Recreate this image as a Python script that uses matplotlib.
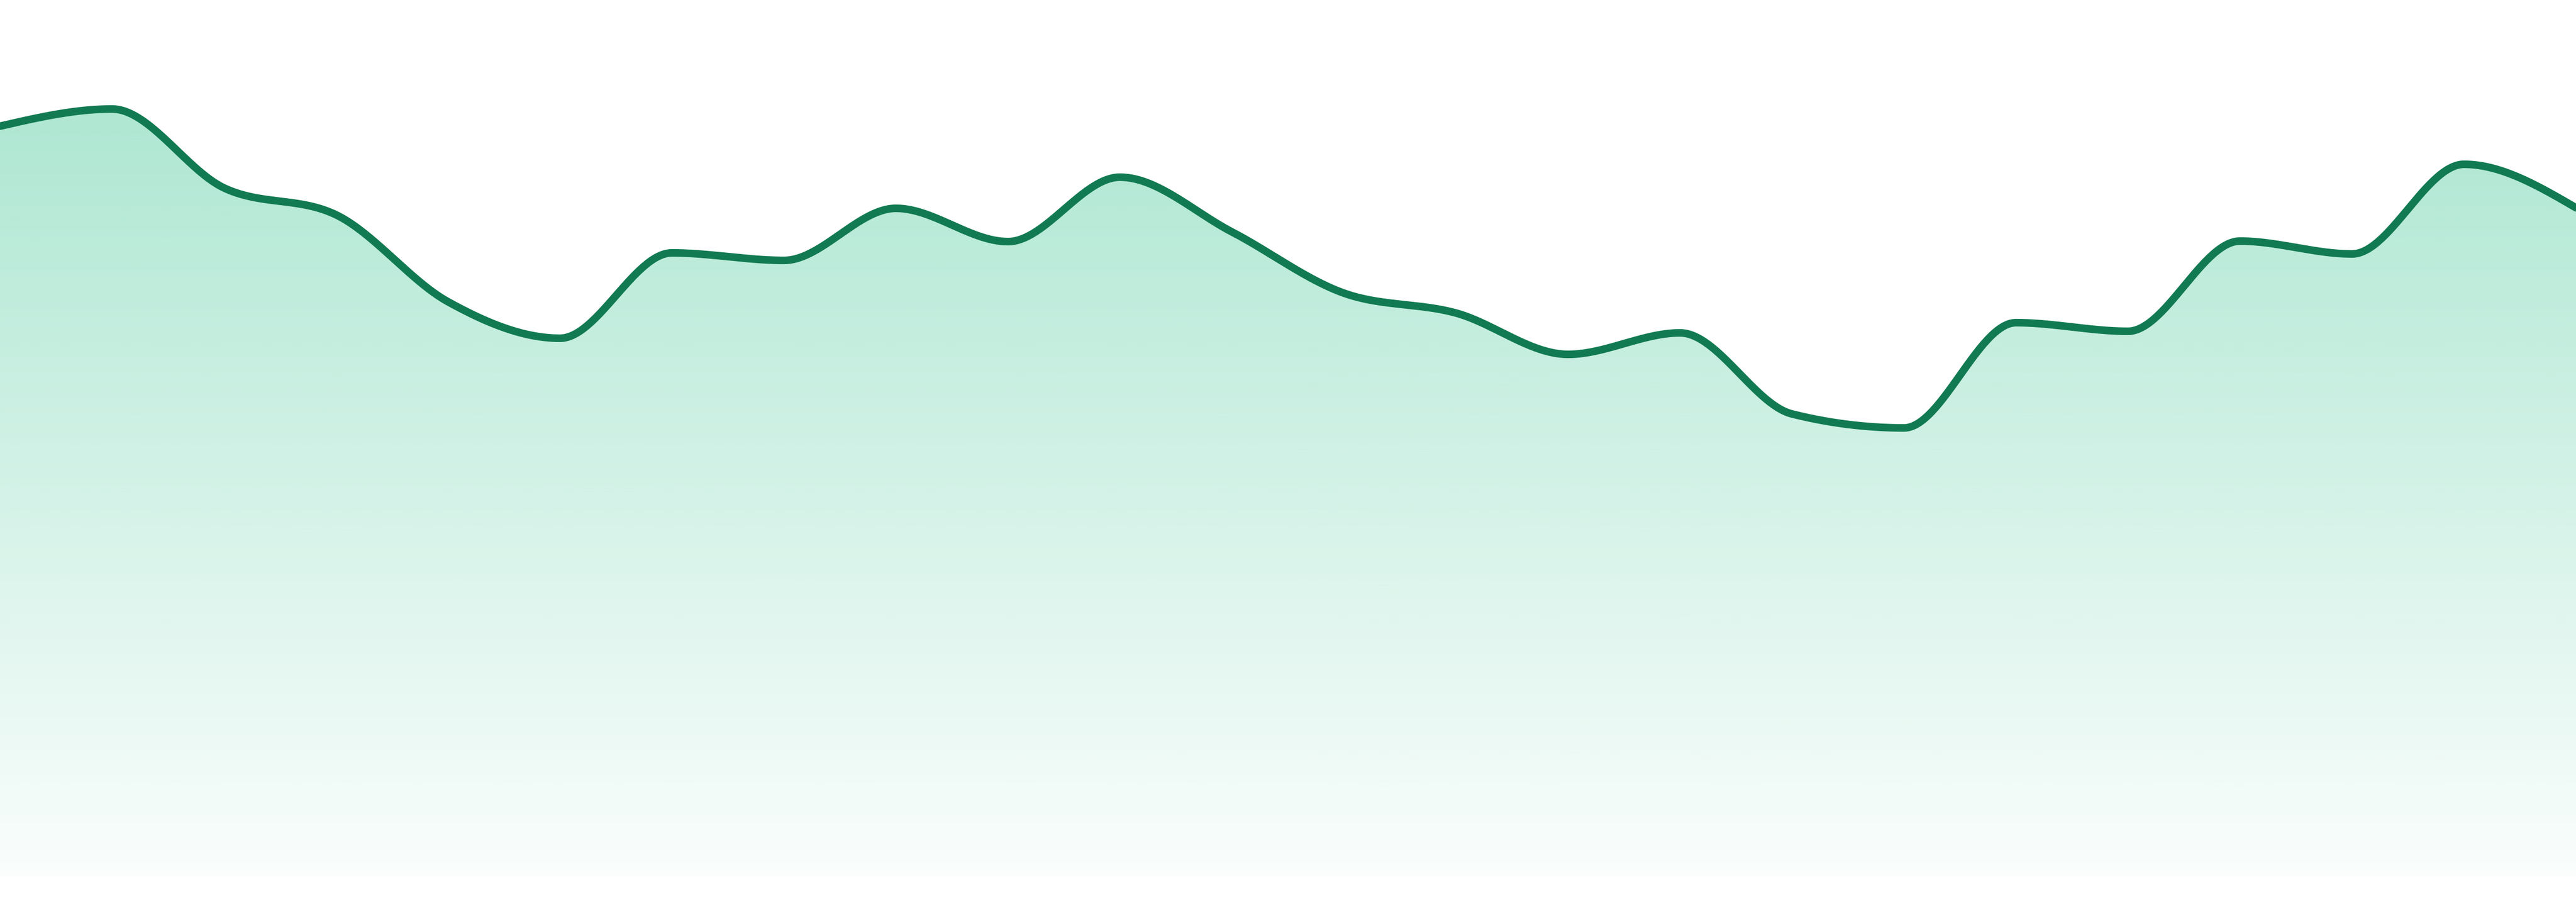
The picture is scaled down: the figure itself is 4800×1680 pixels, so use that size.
import numpy as np
import matplotlib
matplotlib.use("Agg")
import matplotlib.pyplot as plt
from matplotlib.patches import Polygon

# values (24 evenly spaced points, edge to edge)
points = list(range(24))
values = [139.7, 142.9, 128.2, 123.2, 107.0, 100.2, 116.1, 114.7,
          124.4, 118.2, 130.2, 120.0, 108.6, 104.9, 97.2, 101.2,
          86.1, 83.5, 103.1, 101.5, 118.3, 115.9, 132.6, 124.5]

y_top = 163.2
line_color = "#127a52"
fill_rgb = (52 / 255, 195 / 255, 143 / 255)


def monotone_x(xs, ys, n=60):
    # same smoothing as d3.curveMonotoneX
    xs = np.asarray(xs, float)
    ys = np.asarray(ys, float)
    h = np.diff(xs)
    s = np.diff(ys) / h
    t = np.zeros(len(xs))
    for i in range(1, len(xs) - 1):
        p = (s[i - 1] * h[i] + s[i] * h[i - 1]) / (h[i - 1] + h[i])
        t[i] = (np.sign(s[i - 1]) + np.sign(s[i])) * min(abs(s[i - 1]), abs(s[i]), 0.5 * abs(p))
    t[0] = (3 * s[0] - t[1]) / 2
    t[-1] = (3 * s[-1] - t[-2]) / 2
    out_x, out_y = [], []
    for i in range(len(xs) - 1):
        u = np.linspace(0, 1, n, endpoint=False)
        h00 = 2 * u**3 - 3 * u**2 + 1
        h10 = u**3 - 2 * u**2 + u
        h01 = -2 * u**3 + 3 * u**2
        h11 = u**3 - u**2
        out_x.append(xs[i] + u * h[i])
        out_y.append(h00 * ys[i] + h10 * h[i] * t[i] + h01 * ys[i + 1] + h11 * h[i] * t[i + 1])
    out_x.append([xs[-1]])
    out_y.append([ys[-1]])
    return np.concatenate(out_x), np.concatenate(out_y)


sx, sy = monotone_x(points, values)

fig = plt.figure(figsize=(16, 5.6), dpi=300)
ax = fig.add_axes([0, 48 / 1680, 1, 1632 / 1680])
ax.set_xlim(points[0], points[-1])
ax.set_ylim(0, y_top)
ax.axis("off")

# gradient under the curve
rows = 400
grad = np.zeros((rows, 1, 4))
grad[:, 0, :3] = fill_rgb
grad[:, 0, 3] = np.linspace(0.025, 0.025 + 0.002624 * y_top, rows)
im = ax.imshow(grad, extent=[points[0], points[-1], 0, y_top], origin="lower",
               aspect="auto", interpolation="bilinear", zorder=1)
poly = Polygon(np.column_stack([np.r_[sx, sx[-1], sx[0]], np.r_[sy, 0, 0]]),
               closed=True, facecolor="none", edgecolor="none")
ax.add_patch(poly)
im.set_clip_path(poly)

ax.plot(sx, sy, color=line_color, lw=3.4, solid_capstyle="round", zorder=3)

fig.savefig("out.png", dpi=300, facecolor="white")
